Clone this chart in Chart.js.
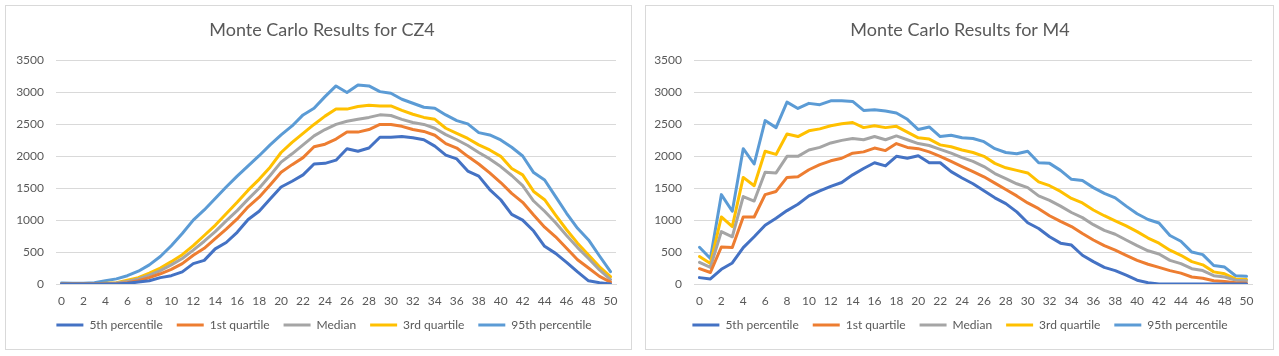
<!DOCTYPE html>
<html>
<head>
<meta charset="utf-8">
<script src="https://cdn.jsdelivr.net/npm/chart.js@4.4.1/dist/chart.umd.min.js"></script>
<style>
  html, body { margin: 0; padding: 0; background: #ffffff; }
  .box { position: absolute; top: 5px; height: 343px; border: 1px solid #d9d9d9; background: #fff; }
  canvas { display: block; }
</style>
</head>
<body>
<div class="box" style="left:5px;width:625px;"><canvas id="c1" width="625" height="343"></canvas></div>
<div class="box" style="left:645px;width:627px;"><canvas id="c2" width="627" height="343"></canvas></div>
<script>
// ---- data ----
const steps = Array.from({length: 51}, (_, i) => String(i));
const seriesNames = ['5th percentile', '1st quartile', 'Median', '3rd quartile', '95th percentile'];
const seriesColors = ['#4472C4', '#ED7D31', '#A5A5A5', '#FFC000', '#5B9BD5'];
const yTicks = [0, 500, 1000, 1500, 2000, 2500, 3000, 3500];

const cz4P5 = [0,0,0,0,0,0,10,30,50,100,130,190,320,370,550,650,810,1010,1140,1330,1520,1610,1710,1880,1890,1940,2120,2080,2130,2300,2300,2310,2290,2260,2160,2020,1960,1770,1690,1480,1320,1090,1000,830,590,480,340,190,50,20,0];
const cz4Q1 = [0,0,0,0,0,5,20,50,100,160,230,320,450,560,710,860,1020,1210,1360,1550,1750,1870,1980,2150,2190,2270,2380,2380,2420,2500,2500,2470,2420,2390,2330,2200,2130,2000,1880,1740,1590,1420,1280,1080,890,740,560,380,250,120,30];
const cz4Median = [0,0,0,0,5,15,40,80,140,210,300,400,530,670,820,990,1150,1330,1500,1700,1910,2040,2180,2320,2420,2500,2550,2580,2610,2650,2640,2580,2530,2500,2440,2340,2260,2170,2060,1960,1840,1700,1540,1300,1140,960,760,570,400,220,70];
const cz4Q3 = [0,0,0,0,10,20,60,100,170,250,350,460,600,760,920,1100,1280,1470,1640,1830,2060,2220,2360,2500,2630,2740,2740,2780,2800,2790,2790,2720,2660,2610,2580,2440,2360,2280,2180,2100,2000,1810,1710,1450,1320,1080,850,640,455,270,115];
const cz4P95 = [15,10,10,20,50,80,130,200,300,430,600,790,1000,1160,1340,1520,1690,1850,2010,2180,2335,2476,2649,2753,2936,3103,3000,3119,3103,3014,2988,2894,2832,2769,2753,2649,2560,2508,2372,2335,2257,2142,2006,1745,1630,1369,1108,873,690,439,193];

const m4P5 = [100,80,230,330,570,740,920,1030,1150,1250,1380,1460,1530,1590,1710,1810,1900,1850,2000,1970,2010,1900,1900,1760,1660,1570,1460,1350,1260,1130,960,870,740,640,610,450,350,260,210,140,60,20,0,0,0,0,0,0,0,0,0];
const m4Q1 = [240,180,580,570,1050,1050,1400,1450,1670,1680,1790,1870,1930,1970,2050,2070,2130,2090,2200,2140,2120,2070,2000,1920,1840,1760,1680,1580,1480,1380,1270,1180,1070,980,900,790,690,600,530,450,370,310,260,210,170,110,90,50,40,20,10];
const m4Median = [340,260,820,740,1370,1300,1750,1740,2000,2000,2100,2140,2210,2250,2280,2260,2310,2260,2320,2260,2200,2170,2110,2050,1980,1920,1840,1730,1650,1570,1510,1380,1310,1220,1120,1040,930,840,780,690,600,520,470,370,320,240,210,130,110,60,50];
const m4Q3 = [430,320,1050,900,1670,1540,2080,2030,2350,2310,2400,2430,2480,2510,2530,2450,2480,2450,2470,2380,2290,2270,2180,2150,2100,2060,2000,1890,1820,1780,1740,1600,1540,1450,1340,1270,1160,1070,990,910,820,720,640,530,450,350,300,190,160,80,70];
const m4P95 = [575,400,1400,1140,2120,1880,2560,2450,2850,2750,2830,2810,2870,2870,2860,2720,2730,2710,2680,2580,2420,2460,2310,2330,2290,2280,2230,2120,2060,2040,2080,1900,1890,1780,1640,1620,1510,1420,1350,1220,1100,1010,955,760,670,500,460,290,265,130,120];

// ---- chart builder ----
const FONT = 'Lato, "Open Sans", sans-serif';
const TXT = '#595959';
const GRID = '#d9d9d9';

function shiftBoxes(dxTitle, dxLegend) {
  return {
    id: 'shiftBoxes',
    afterLayout(chart) {
      if (chart.titleBlock) { chart.titleBlock.left += dxTitle; chart.titleBlock.right += dxTitle; }
      if (chart.legend) { chart.legend.left += dxLegend; chart.legend.right += dxLegend; }
    }
  };
}

function buildChart(canvasId, titleText, seriesData, cfg) {
  const datasets = seriesData.map((d, i) => ({
    label: seriesNames[i],
    data: d,
    borderColor: seriesColors[i],
    backgroundColor: seriesColors[i],
    borderWidth: 3,
    pointRadius: 0,
    pointHoverRadius: 0,
    tension: 0,
    fill: false,
    borderJoinStyle: 'round',
    borderCapStyle: 'round'
  }));
  return new Chart(document.getElementById(canvasId), {
    type: 'line',
    data: { labels: steps, datasets },
    plugins: [shiftBoxes(cfg.dxTitle, cfg.dxLegend)],
    options: {
      responsive: false,
      animation: false,
      devicePixelRatio: 1,
      layout: { padding: { left: 0, right: cfg.padRight, top: 0, bottom: cfg.padBottom } },
      plugins: {
        title: {
          display: true,
          text: titleText,
          color: TXT,
          font: { family: FONT, size: 18, weight: 'normal' },
          padding: { top: 13, bottom: 20 }
        },
        legend: {
          display: true,
          position: 'bottom',
          labels: {
            color: TXT,
            font: { family: FONT, size: 12 },
            boxWidth: 27,
            boxHeight: 3,
            padding: 14,
            generateLabels(chart) {
              const items = Chart.defaults.plugins.legend.labels.generateLabels(chart);
              items.forEach((it, i) => { it.lineWidth = 0; it.fillStyle = seriesColors[i]; it.strokeStyle = seriesColors[i]; });
              return items;
            }
          }
        },
        tooltip: { enabled: false }
      },
      scales: {
        x: {
          offset: true,
          afterFit(scale) { scale.height = 21; },
          grid: { display: false, drawTicks: false },
          border: { display: true, color: GRID, width: 1 },
          ticks: {
            color: TXT,
            font: { family: FONT, size: 12 },
            autoSkip: false,
            maxRotation: 0,
            padding: 10,
            callback(value, index) { return index % 2 === 0 ? steps[index] : ''; }
          }
        },
        y: {
          min: 0,
          max: 3500,
          afterFit(scale) { scale.width = cfg.yWidth; },
          afterBuildTicks(scale) { scale.ticks = yTicks.map(v => ({ value: v })); },
          grid: { color: GRID, lineWidth: 1, drawTicks: false },
          border: { display: false },
          ticks: {
            color: TXT,
            font: { family: FONT, size: 12 },
            padding: 12,
            callback(value) { return String(value); }
          }
        }
      }
    }
  });
}

buildChart('c1', 'Monte Carlo Results for CZ4', [cz4P5, cz4Q1, cz4Median, cz4Q3, cz4P95], { padRight: 15, padBottom: 8, yWidth: 50, dxTitle: 11, dxLegend: 13 });
buildChart('c2', 'Monte Carlo Results for M4', [m4P5, m4Q1, m4Median, m4Q3, m4P95], { padRight: 21, padBottom: 8, yWidth: 48, dxTitle: 11, dxLegend: 11 });
</script>
</body>
</html>
